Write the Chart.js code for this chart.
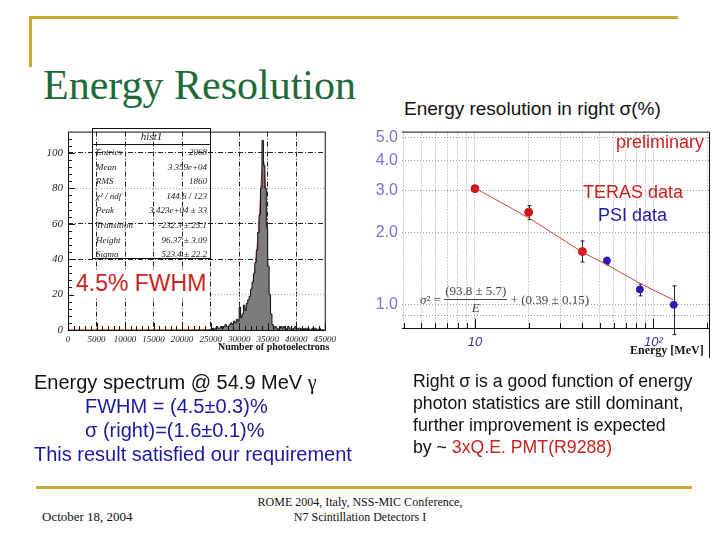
<!DOCTYPE html>
<html>
<head>
<meta charset="utf-8">
<script src="https://cdn.jsdelivr.net/npm/chart.js@4/dist/chart.umd.min.js"></script>
<style>
  html, body { margin: 0; padding: 0; background: #fff; }
  #slide { position: relative; width: 720px; height: 540px; overflow: hidden; background: #fff; font-family: Arial, "Liberation Sans", sans-serif; }
  .abs { position: absolute; white-space: nowrap; }
  .gold { position: absolute; background: #c9a833; }
  canvas { position: absolute; }
  #stats { position: absolute; left: 92px; top: 128px; width: 119px; height: 131px; border: 1px solid #111; box-sizing: border-box; font-family: "Liberation Serif", serif; font-style: italic; font-size: 9px; color: #222; }
  #stats .ttl { height: 15px; line-height: 15px; text-align: center; border-bottom: 1px solid #111; font-size: 11px; }
  #stats .row { display: flex; justify-content: space-between; padding: 0 3px; height: 14.6px; line-height: 14.6px; }
  .frac { display: inline-flex; flex-direction: column; align-items: center; vertical-align: middle; }
  .frac span:first-child { border-bottom: 1px solid #444; padding: 0 1px; }
</style>
</head>
<body>
<div id="slide">
  <div class="gold" style="left:30px; top:16px; width:648px; height:3px;"></div>
  <div class="gold" style="left:29px; top:16px; width:3px; height:51px;"></div>
  <div class="gold" style="left:36px; top:486px; width:656px; height:3px;"></div>

  <div class="abs" style="left:43px; top:61px; font-family:'Liberation Serif',serif; font-size:42px; color:#1e6a3a;">Energy Resolution</div>
  <div class="abs" style="left:404px; top:98px; font-size:19px; color:#111;">Energy resolution in right σ(%)</div>

  <canvas id="histChart" width="310" height="228" style="left:30px; top:120px;"></canvas>
  <div id="stats">
    <div class="ttl">hist1</div>
    <div class="row"><span>Entries</span><span>2068</span></div>
    <div class="row"><span>Mean</span><span>3.359e+04</span></div>
    <div class="row"><span>RMS</span><span>1860</span></div>
    <div class="row"><span>χ² / ndf</span><span>144.6 / 123</span></div>
    <div class="row"><span>Peak</span><span>3.423e+04 ± 33</span></div>
    <div class="row"><span>Transition</span><span>-232.3 ± 25.1</span></div>
    <div class="row"><span>Height</span><span>96.37 ± 3.09</span></div>
    <div class="row"><span>Sigma</span><span>523.4 ± 22.2</span></div>
  </div>
  <div class="abs" style="left:74px; top:270px; font-size:23px; color:#cc1f1f; background:#fff; padding:0 2px;">4.5% FWHM</div>
  <div class="abs" style="left:218px; top:341px; font-family:'Liberation Serif',serif; font-weight:bold; font-size:10px; color:#111;">Number of photoelectrons</div>

  <canvas id="resChart" width="355" height="240" style="left:360px; top:118px;"></canvas>
  <div class="abs" style="left:616px; top:132px; font-size:18px; color:#cc1f1f;">preliminary</div>
  <div class="abs" style="left:583px; top:182px; font-size:18px; color:#cc1f1f;">TERAS data</div>
  <div class="abs" style="left:598px; top:205px; font-size:18px; color:#1f1aa5;">PSI data</div>
  <div class="abs" style="left:420px; top:283px; font-family:'Liberation Serif',serif; font-size:13px; color:#444;">
    <span style="vertical-align:middle;"><i>σ</i>² = </span><span class="frac"><span>(93.8 ± 5.7)</span><span><i>E</i></span></span><span style="vertical-align:middle;"> + (0.39 ± 0.15)</span>
  </div>
  <div class="abs" style="left:630px; top:343px; font-family:'Liberation Serif',serif; font-weight:bold; font-size:12px; color:#111;">Energy [MeV]</div>

  <div class="abs" style="left:34px; top:370px; font-size:20px; line-height:24px; color:#111;">Energy spectrum @ 54.9 MeV <span style="font-family:'Liberation Serif',serif;">γ</span></div>
  <div class="abs" style="left:85px; top:394px; font-size:20px; line-height:24px; color:#1a1aa0;">FWHM = (4.5±0.3)%</div>
  <div class="abs" style="left:85px; top:418px; font-size:20px; line-height:24px; color:#1a1aa0;">σ (right)=(1.6±0.1)%</div>
  <div class="abs" style="left:34px; top:442px; font-size:20px; line-height:24px; color:#1a1aa0;">This result satisfied our requirement</div>

  <div class="abs" style="left:413px; top:370px; font-size:17.7px; line-height:22px; color:#111;">
    Right σ is a good function of energy<br>
    photon statistics are still dominant,<br>
    further improvement is expected<br>
    by ~ <span style="color:#cc1f1f;">3xQ.E. PMT(R9288)</span>
  </div>

  <div class="abs" style="left:42px; top:509px; font-family:'Liberation Serif',serif; font-size:13px; color:#111;">October 18, 2004</div>
  <div class="abs" style="left:250px; top:495px; width:220px; text-align:center; font-family:'Liberation Serif',serif; font-size:12px; line-height:15px; color:#111;">ROME 2004, Italy, NSS-MIC Conference,<br>N7 Scintillation Detectors I</div>
</div>

<script>
// ---- histogram (left) ----
const histBinStart = [
  25000, 25250, 25500, 25750, 26000, 26250, 26500, 26750, 27000, 27250,
  27500, 27750, 28000, 28250, 28500, 28750, 29000, 29250, 29500, 29750,
  30000, 30250, 30500, 30750, 31000, 31250, 31500, 31750, 32000, 32250,
  32500, 32750, 33000, 33250, 33500, 33750, 34000, 34250, 34500, 34750,
  35000, 35250, 35500, 35750, 36000, 36250, 36500, 36750, 37000, 37250,
  37500, 37750, 38000, 38250, 38500, 38750, 39000, 39250, 39500, 39750,
  40000, 40250, 40500, 40750, 41000, 41250, 41500, 41750, 42000, 42250,
  42500, 42750, 43000, 43250, 43500, 43750, 44000, 44250, 44500, 44750
];
const histCounts = [
  0, 1, 0, 1, 2, 1, 1, 2, 1, 2,
  3, 2, 2, 3, 4, 3, 5, 4, 6, 5,
  13, 7, 9, 14, 11, 15, 17, 19, 23, 27,
  32, 38, 45, 55, 65, 80, 107, 93, 80, 58,
  36, 20, 9, 3, 1, 2, 1, 0, 1, 2,
  1, 2, 1, 0, 2, 1, 1, 0, 1, 2,
  0, 1, 1, 0, 1, 0, 1, 0, 1, 0,
  0, 1, 0, 1, 0, 0, 1, 0, 0, 0
];
const histFitX = [0, 25000, 28000, 29000, 30000, 31000, 32000, 32500, 33000, 33500, 33800, 34100, 34250, 34500, 34750, 35000, 35250, 35500, 35750, 36000, 45000];
const histFitY = [0, 0.2, 1, 3, 6, 11, 20, 28, 42, 62, 80, 94, 96, 88, 68, 40, 18, 6, 1.5, 0.3, 0];
const histXTicks = [0, 5000, 10000, 15000, 20000, 25000, 30000, 35000, 40000, 45000];
const histYTicks = [0, 20, 40, 60, 80, 100];

// ---- resolution vs energy (right) ----
const terasE = [10, 20, 40];
const terasSigma = [3.06, 2.44, 1.67];
const terasLo = [3.02, 2.27, 1.51];
const terasHi = [3.10, 2.60, 1.85];
const psiE = [54.9, 84, 130];
const psiSigma = [1.53, 1.16, 1.00];
const psiLo = [1.47, 1.09, 0.75];
const psiHi = [1.58, 1.22, 1.20];
const fitE = [10, 20, 40, 55, 84, 129];
const fitSigma = [3.08, 2.31, 1.66, 1.47, 1.23, 1.05];
const resXGrid = [4, 5, 6, 7, 8, 9, 10, 20, 30, 40, 50, 60, 70, 80, 90, 100, 200];
const resXLabels = { 10: '10', 100: '10²' };
const resYGrid = [0.9, 1, 2, 3, 4, 5];
const resYLabels = { 1: '1.0', 2: '2.0', 3: '3.0', 4: '4.0', 5: '5.0' };

function pts(xs, ys) {
  return xs.map((x, i) => ({ x: x, y: ys[i] }));
}

// frame + inner ticks, ROOT style
const histFrame = {
  id: 'histFrame',
  afterDraw(chart) {
    const { ctx, chartArea: a, scales } = chart;
    ctx.save();
    ctx.strokeStyle = '#111';
    ctx.lineWidth = 1;
    ctx.setLineDash([]);
    ctx.strokeRect(a.left + 0.5, a.top + 0.5, a.right - a.left, a.bottom - a.top);
    ctx.beginPath();
    for (let v = 0; v <= 45000; v += 1000) {
      const x = Math.round(scales.x.getPixelForValue(v)) + 0.5;
      const len = v % 5000 === 0 ? 7 : 4;
      ctx.moveTo(x, a.bottom);
      ctx.lineTo(x, a.bottom - len);
    }
    for (let v = 0; v <= 110; v += 4) {
      const y = Math.round(scales.y.getPixelForValue(v)) + 0.5;
      const len = v % 20 === 0 ? 7 : 4;
      ctx.moveTo(a.left, y);
      ctx.lineTo(a.left + len, y);
    }
    ctx.stroke();
    ctx.restore();
  }
};

new Chart(document.getElementById('histChart'), {
  type: 'line',
  data: {
    datasets: [{
      data: pts(histBinStart.concat([45000]), histCounts.concat([0])),
      stepped: 'before',
      borderColor: '#111',
      borderWidth: 1,
      backgroundColor: '#7c7c7c',
      fill: 'origin',
      pointRadius: 0
    }, {
      data: pts(histFitX, histFitY),
      borderColor: '#c02a2a',
      borderWidth: 1,
      fill: false,
      pointRadius: 0,
      tension: 0.3
    }]
  },
  options: {
    responsive: false,
    animation: false,
    devicePixelRatio: 1,
    layout: { padding: { top: 8, right: 15, left: 0, bottom: 0 } },
    plugins: { legend: { display: false }, tooltip: { enabled: false } },
    scales: {
      x: {
        type: 'linear', min: 0, max: 45000,
        afterBuildTicks: (s) => { s.ticks = histXTicks.map(v => ({ value: v })); },
        afterFit: (s) => { s.height = 18; },
        border: { display: false, dash: (c) => [5, 2, 1, 2] },
        grid: { drawTicks: false, color: (c) => (c.tick && (c.tick.value === 0 || c.tick.value === 45000)) ? 'rgba(0,0,0,0)' : '#222' },
        ticks: {
          autoSkip: false, maxRotation: 0, padding: 4, color: '#222',
          font: { family: 'Liberation Serif', style: 'italic', size: 9 },
          callback: (v) => String(v)
        }
      },
      y: {
        min: 0, max: 112,
        afterBuildTicks: (s) => { s.ticks = histYTicks.map(v => ({ value: v })); },
        afterFit: (s) => { s.width = 38; },
        border: { display: false, dash: (c) => (c.tick && (c.tick.value === 20 || c.tick.value === 80)) ? [1, 2] : [5, 2, 1, 2] },
        grid: { drawTicks: false, color: (c) => {
          const v = c.tick ? c.tick.value : 0;
          if (v === 0) return 'rgba(0,0,0,0)';
          return (v === 20 || v === 80) ? '#aaa' : '#222';
        } },
        ticks: { padding: 5, color: '#222', font: { family: 'Liberation Serif', style: 'italic', size: 11 } }
      }
    }
  },
  plugins: [histFrame]
});

// error bars + frame for the right plot
const resExtras = {
  id: 'resExtras',
  beforeDatasetsDraw(chart) {
    const { ctx, scales } = chart;
    ctx.save();
    ctx.strokeStyle = '#222';
    ctx.lineWidth = 1;
    ctx.beginPath();
    const bars = [[terasE, terasLo, terasHi], [psiE, psiLo, psiHi]];
    bars.forEach(([es, lo, hi]) => {
      es.forEach((e, i) => {
        const x = Math.round(scales.x.getPixelForValue(e)) + 0.5;
        const y1 = scales.y.getPixelForValue(lo[i]);
        const y2 = scales.y.getPixelForValue(hi[i]);
        ctx.moveTo(x, y1); ctx.lineTo(x, y2);
        ctx.moveTo(x - 2, y1); ctx.lineTo(x + 2, y1);
        ctx.moveTo(x - 2, y2); ctx.lineTo(x + 2, y2);
      });
    });
    ctx.stroke();
    ctx.restore();
  },
  afterDraw(chart) {
    const { ctx, chartArea: a, scales } = chart;
    ctx.save();
    ctx.strokeStyle = '#111';
    ctx.lineWidth = 1;
    ctx.beginPath();
    ctx.moveTo(a.left, a.top + 0.5); ctx.lineTo(a.right + 0.5, a.top + 0.5);
    ctx.lineTo(a.right + 0.5, a.bottom + 30);
    ctx.moveTo(a.left, a.bottom + 0.5); ctx.lineTo(a.right, a.bottom + 0.5);
    resXGrid.forEach(v => {
      const x = Math.round(scales.x.getPixelForValue(v)) + 0.5;
      const len = (v === 10 || v === 100) ? 9 : 5;
      ctx.moveTo(x, a.bottom); ctx.lineTo(x, a.bottom - len);
    });
    ctx.stroke();
    ctx.restore();
  }
};

new Chart(document.getElementById('resChart'), {
  type: 'line',
  data: {
    datasets: [{
      data: pts(fitE, fitSigma),
      borderColor: '#c84a3a',
      borderWidth: 1,
      pointRadius: 0,
      fill: false
    }, {
      data: pts(terasE, terasSigma),
      showLine: false,
      pointRadius: 4,
      pointBackgroundColor: '#d01818',
      pointBorderColor: '#d01818'
    }, {
      data: pts(psiE, psiSigma),
      showLine: false,
      pointRadius: 3.5,
      pointBackgroundColor: '#2a1ab8',
      pointBorderColor: '#2a1ab8'
    }]
  },
  options: {
    responsive: false,
    animation: false,
    devicePixelRatio: 1,
    layout: { padding: { top: 9, right: 6, left: 0, bottom: 0 } },
    plugins: { legend: { display: false }, tooltip: { enabled: false } },
    scales: {
      x: {
        type: 'logarithmic', min: 3.9, max: 205,
        afterBuildTicks: (s) => { s.ticks = resXGrid.map(v => ({ value: v })); },
        afterFit: (s) => { s.height = 30; },
        border: { display: false, dash: (c) => [1, 2] },
        grid: { drawTicks: false, color: '#9a9a9a' },
        ticks: {
          autoSkip: false, maxRotation: 0, padding: 7, color: '#3d2fa5',
          font: { family: 'Arial', style: 'italic', size: 13 },
          callback: (v) => resXLabels[v] || ''
        }
      },
      y: {
        type: 'logarithmic', min: 0.8, max: 5.3,
        afterBuildTicks: (s) => { s.ticks = resYGrid.map(v => ({ value: v })); },
        afterFit: (s) => { s.width = 42; },
        border: { display: false, dash: (c) => [1, 2] },
        grid: { drawTicks: false, color: '#9a9a9a' },
        ticks: {
          padding: 4, color: '#7d6fd6',
          font: { family: 'Arial', size: 16 },
          callback: (v) => resYLabels[v] || ''
        }
      }
    }
  },
  plugins: [resExtras]
});
</script>
</body>
</html>
